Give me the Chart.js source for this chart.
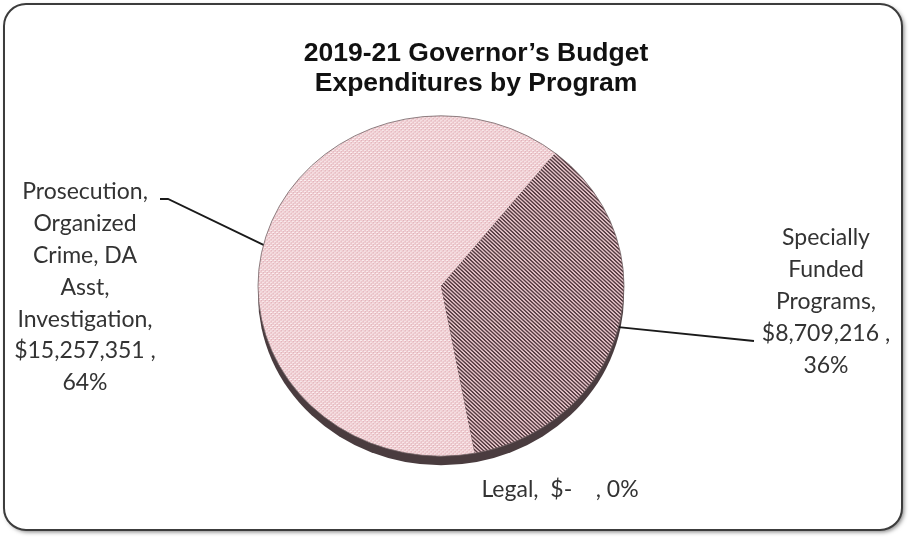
<!DOCTYPE html>
<html>
<head>
<meta charset="utf-8">
<script src="https://cdn.jsdelivr.net/npm/chart.js@4/dist/chart.umd.min.js"></script>
<style>
  html, body { margin: 0; padding: 0; background: #ffffff; }
  #wrap { position: relative; width: 910px; height: 537px; }
</style>
</head>
<body>
<div id="wrap"><canvas id="budgetPie"></canvas></div>
<script>
// Program names, wrapped the way they are printed beside the pie
const programs = ['Prosecution, Organized Crime, DA Asst, Investigation', 'Specially Funded Programs', 'Legal'];
const programLines = [
  ['Prosecution,', 'Organized', 'Crime, DA', 'Asst,', 'Investigation,'],
  ['Specially', 'Funded', 'Programs,'],
  ['Legal,']
];
// 2019-21 expenditures in dollars
const expenditures = [15257351, 8709216, 0];
const titleLines = ['2019-21 Governor\u2019s Budget', 'Expenditures by Program'];

const total = expenditures.reduce((a, b) => a + b, 0);
const dollarText = v => v === 0 ? '$-    ' : '$' + v.toLocaleString('en-US') + ' ';
const percentText = v => Math.round(v / total * 100) + '%';

// pie geometry: drawn as a flattened disc with a dark rim underneath
const TILT = 0.93;
const DEPTH = 9;

function dotPattern() {
  const c = document.createElement('canvas');
  c.width = 4; c.height = 4;
  const g = c.getContext('2d');
  g.fillStyle = '#efcbd0';
  g.fillRect(0, 0, 4, 4);
  g.fillStyle = '#fbeff0';
  g.fillRect(0, 0, 2, 1);
  g.fillRect(2, 2, 2, 1);
  g.fillStyle = '#deb3b9';
  g.fillRect(1, 1, 1, 1);
  g.fillRect(3, 3, 1, 1);
  return g.createPattern(c, 'repeat');
}

function stripePattern() {
  const c = document.createElement('canvas');
  c.width = 4; c.height = 4;
  const g = c.getContext('2d');
  g.fillStyle = '#e3c2c7';
  g.fillRect(0, 0, 4, 4);
  g.fillStyle = '#563c42';
  for (let i = 0; i < 4; i++) {
    g.fillRect(i, i, 1, 1);
    g.fillRect((i + 1) % 4, i, 1, 1);
  }
  return g.createPattern(c, 'repeat');
}

const framePlugin = {
  id: 'frame',
  beforeDraw(chart) {
    const ctx = chart.ctx;
    ctx.save();
    ctx.fillStyle = '#ffffff';
    ctx.fillRect(0, 0, chart.width, chart.height);
    ctx.beginPath();
    ctx.roundRect(4, 4, 898, 526, 22);
    ctx.shadowColor = 'rgba(0,0,0,0.5)';
    ctx.shadowBlur = 4;
    ctx.shadowOffsetX = 2;
    ctx.shadowOffsetY = 2;
    ctx.fillStyle = '#ffffff';
    ctx.fill();
    ctx.shadowColor = 'transparent';
    ctx.lineWidth = 2;
    ctx.strokeStyle = '#3c3c3c';
    ctx.stroke();
    ctx.restore();
  }
};

const discPlugin = {
  id: 'disc',
  beforeDatasetsDraw(chart) {
    const arc = chart.getDatasetMeta(0).data[0];
    const { x, y, outerRadius } = arc.getProps(['x', 'y', 'outerRadius'], true);
    const ctx = chart.ctx;
    ctx.save();
    ctx.translate(x, y);
    ctx.scale(1, TILT);
    ctx.translate(-x, -y);
    // rim below the top face
    ctx.beginPath();
    ctx.arc(x, y + DEPTH / TILT, outerRadius, 0, Math.PI * 2);
    ctx.fillStyle = '#4a3c3f';
    ctx.fill();
  },
  afterDatasetsDraw(chart) {
    const arc = chart.getDatasetMeta(0).data[0];
    const { x, y, outerRadius } = arc.getProps(['x', 'y', 'outerRadius'], true);
    const ctx = chart.ctx;
    ctx.beginPath();
    ctx.arc(x, y, outerRadius, 0, Math.PI * 2);
    ctx.lineWidth = 1;
    ctx.strokeStyle = 'rgba(110,95,98,0.8)';
    ctx.stroke();
    ctx.restore();
  }
};

const labelPlugin = {
  id: 'sliceLabels',
  afterDraw(chart) {
    const ctx = chart.ctx;
    ctx.save();

    // title
    ctx.fillStyle = '#111111';
    ctx.font = 'bold 26.5px "Liberation Sans", Arial, sans-serif';
    ctx.textAlign = 'center';
    ctx.textBaseline = 'middle';
    ctx.fillText(titleLines[0], 476, 54);
    ctx.fillText(titleLines[1], 476, 84);

    const meta = chart.getDatasetMeta(0);
    const edgePoint = i => {
      const a = meta.data[i].getProps(['x', 'y', 'startAngle', 'endAngle', 'outerRadius'], true);
      const mid = (a.startAngle + a.endAngle) / 2;
      return [a.x + Math.cos(mid) * a.outerRadius, a.y + Math.sin(mid) * a.outerRadius * TILT];
    };

    ctx.strokeStyle = '#1a1a1a';
    ctx.lineWidth = 1.8;

    // leader: first program
    let p = edgePoint(0);
    ctx.beginPath();
    ctx.moveTo(160, 199);
    ctx.lineTo(168, 199);
    ctx.lineTo(p[0], p[1]);
    ctx.stroke();

    // leader: second program
    p = edgePoint(1);
    ctx.beginPath();
    ctx.moveTo(p[0], p[1]);
    ctx.lineTo(754, 341);
    ctx.stroke();

    ctx.fillStyle = '#333333';
    ctx.font = '23px Lato, "Open Sans", sans-serif';
    ctx.textAlign = 'center';
    ctx.textBaseline = 'middle';
    const step = 31.8;

    const left = programLines[0].concat([dollarText(expenditures[0]) + ',', percentText(expenditures[0])]);
    left.forEach((t, k) => ctx.fillText(t, 85, 192 + k * step));

    const right = programLines[1].concat([dollarText(expenditures[1]) + ',', percentText(expenditures[1])]);
    right.forEach((t, k) => ctx.fillText(t, 826, 238 + k * step));

    ctx.fillText(programLines[2][0] + '  ' + dollarText(expenditures[2]) + ', ' + percentText(expenditures[2]), 560, 490);

    ctx.restore();
  }
};

new Chart(document.getElementById('budgetPie'), {
  type: 'pie',
  data: {
    labels: programs,
    datasets: [{
      data: expenditures,
      backgroundColor: [dotPattern(), stripePattern(), '#b9a0a4'],
      borderWidth: 0
    }]
  },
  options: {
    responsive: true,
    maintainAspectRatio: false,
    animation: false,
    events: [],
    rotation: -190.6,
    layout: { padding: { left: 258, right: 286, top: 102, bottom: 67 } },
    plugins: {
      legend: { display: false },
      tooltip: { enabled: false },
      title: { display: false }
    }
  },
  plugins: [framePlugin, discPlugin, labelPlugin]
});
</script>
</body>
</html>
